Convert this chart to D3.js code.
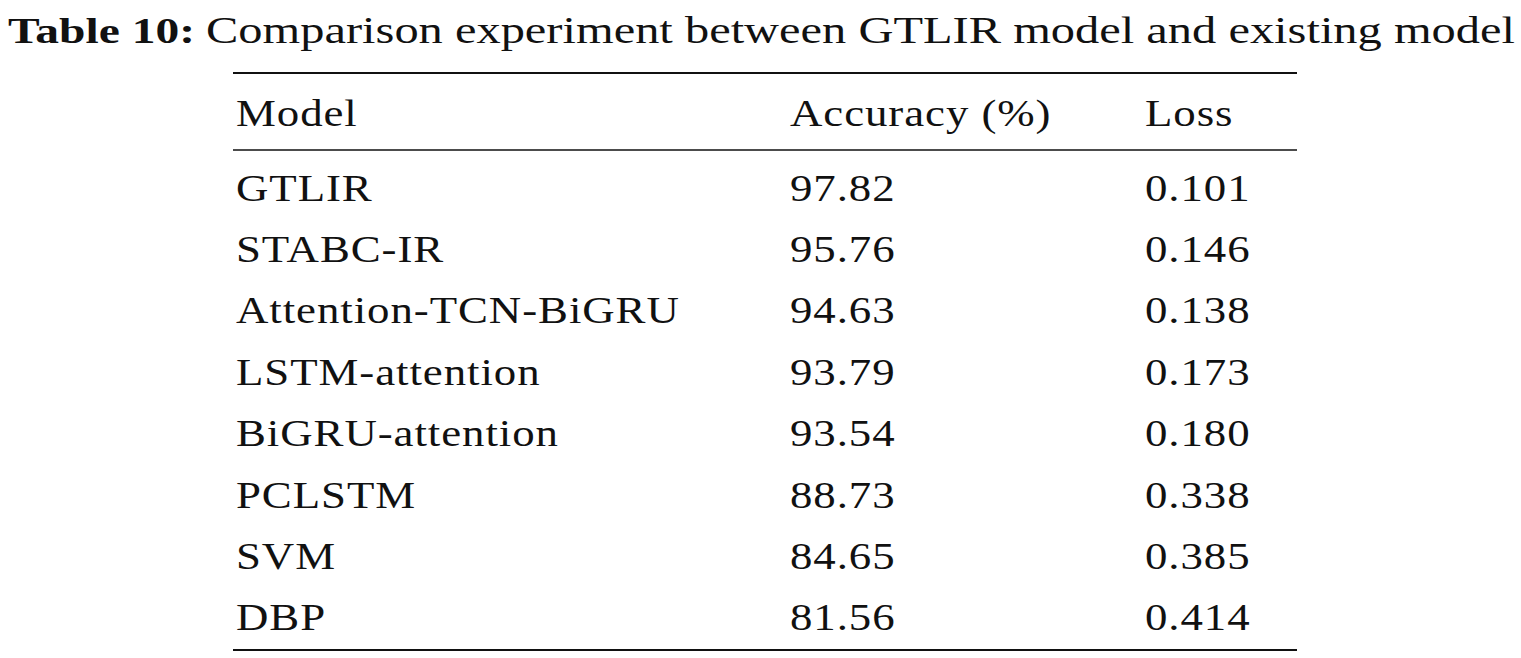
<!DOCTYPE html>
<html><head><meta charset="utf-8">
<script src="https://cdn.jsdelivr.net/npm/d3@7"></script>
<style>body{margin:0;background:#fff}</style></head>
<body><script>
const titleBold = "Table 10:";
const titleText = "Comparison experiment between GTLIR model and existing model";
const headers = ["Model", "Accuracy (%)", "Loss"];
const models = ["GTLIR","STABC-IR","Attention-TCN-BiGRU","LSTM-attention","BiGRU-attention","PCLSTM","SVM","DBP"];
const accuracy = ["97.82","95.76","94.63","93.79","93.54","88.73","84.65","81.56"];
const loss = ["0.101","0.146","0.138","0.173","0.180","0.338","0.385","0.414"];

const W=1521,H=658;
const svg=d3.select("body").append("svg").attr("width",W).attr("height",H)
  .style("font-family","'Liberation Serif','Times New Roman',serif").style("fill","#111");
svg.append("text").attr("x",8).attr("y",43).attr("font-size",36).attr("font-weight","bold")
  .attr("textLength",187).attr("lengthAdjust","spacingAndGlyphs").text(titleBold);
svg.append("text").attr("x",206).attr("y",43).attr("font-size",38)
  .attr("textLength",1309).attr("lengthAdjust","spacingAndGlyphs").text(titleText);

const colX=d3.scaleOrdinal().domain([0,1,2]).range([236,790,1145]);
const y=d3.scaleBand().domain(d3.range(models.length)).range([157,648]);
const fs=38;
const line=(yy,w)=>svg.append("line").attr("x1",233).attr("x2",1297).attr("y1",yy).attr("y2",yy).attr("stroke","#111").attr("stroke-width",w);
line(73,2);line(150,1.5);line(650,2);
function cell(x,yy,s){
  svg.append("text").attr("transform",`translate(${x},${yy}) scale(1.18,1)`)
    .attr("font-size",fs).attr("letter-spacing",0.8).text(s);
}
headers.forEach((h,i)=>cell(colX(i),126,h));
const rows=models.map((m,i)=>[m,accuracy[i],loss[i]]);
rows.forEach((r,i)=>r.forEach((c,j)=>cell(colX(j),y(i)+y.bandwidth()/2+13,c)));
</script></body></html>
